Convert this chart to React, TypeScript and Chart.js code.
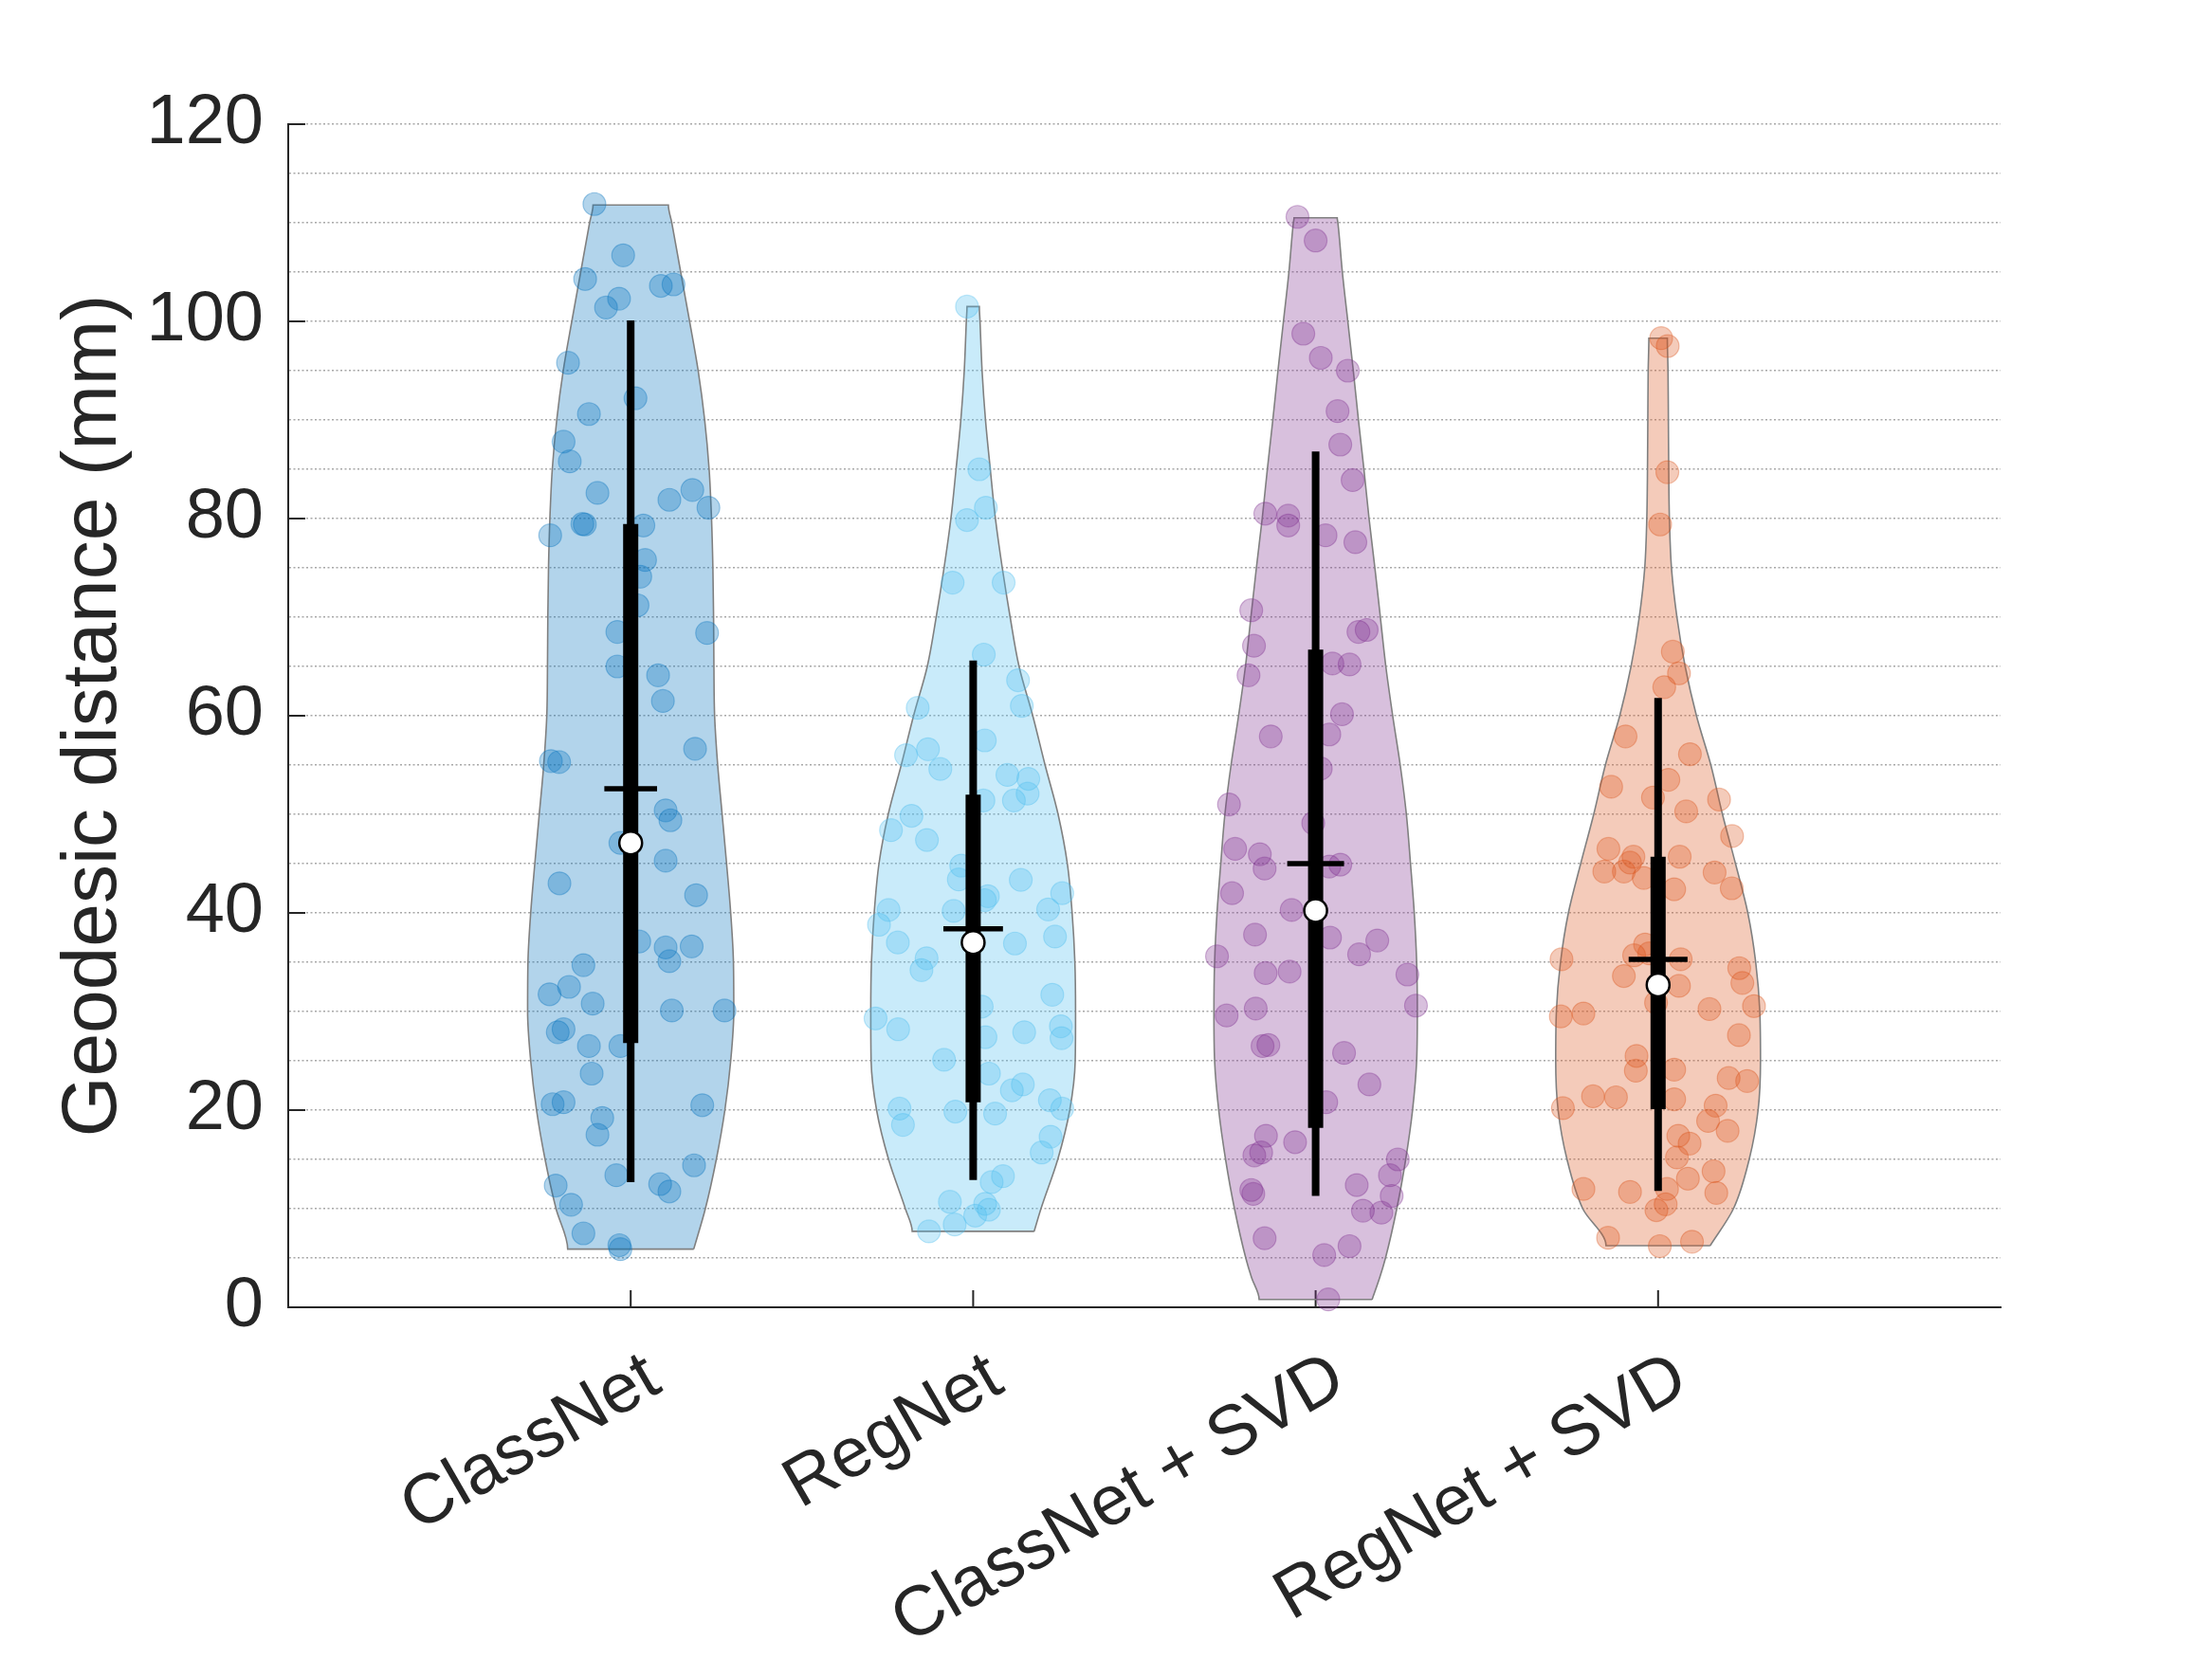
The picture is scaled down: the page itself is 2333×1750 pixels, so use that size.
import React, { useEffect, useRef } from 'react';
import { Chart, registerables } from 'chart.js';

Chart.register(...registerables);

// ---------- categories & ticks ----------
const categories = ['ClassNet', 'RegNet', 'ClassNet + SVD', 'RegNet + SVD'];
const yGridValues = [0, 5, 10, 15, 20, 25, 30, 35, 40, 45, 50, 55, 60, 65, 70, 75, 80, 85, 90, 95, 100, 105, 110, 115, 120];
const yLabelValues = [0, 20, 40, 60, 80, 100, 120];

// ---------- summary statistics ----------
const medians = [47.1, 37.0, 40.25, 32.7];
const means = [52.6, 38.4, 45.0, 35.3];
const q1Values = [26.8, 20.8, 18.2, 20.1];
const q3Values = [79.45, 52.0, 66.7, 45.7];
const whiskerLow = [12.7, 12.9, 11.3, 11.8];
const whiskerHigh = [100.1, 65.6, 86.8, 61.8];
const meanLineHalfWidths = [0.077, 0.087, 0.083, 0.086];

// ---------- violin outlines (y level, half width in category units) ----------
const classNetViolinY = [5.9, 10, 15, 20, 25, 30, 35, 40, 45, 50, 55, 60, 65, 70, 75, 80, 85, 90, 95, 100, 105, 110, 111.8];
const classNetViolinHW = [0.184, 0.218, 0.25, 0.275, 0.292, 0.301, 0.3, 0.292, 0.28, 0.267, 0.254, 0.245, 0.243, 0.242, 0.24, 0.236, 0.229, 0.216, 0.197, 0.172, 0.146, 0.12, 0.11];

const regNetViolinY = [7.7, 10, 15, 20, 25, 30, 35, 40, 45, 50, 55, 60, 65, 70, 75, 80, 85, 90, 95, 100, 101.5];
const regNetViolinHW = [0.178, 0.198, 0.247, 0.282, 0.298, 0.299, 0.297, 0.289, 0.275, 0.248, 0.21, 0.174, 0.134, 0.108, 0.085, 0.065, 0.05, 0.036, 0.026, 0.02, 0.018];

const classSvdViolinY = [0.8, 3, 5, 10, 15, 20, 25, 30, 35, 40, 45, 50, 55, 60, 65, 70, 75, 80, 85, 90, 95, 100, 105, 110, 110.5];
const classSvdViolinHW = [0.165, 0.187, 0.204, 0.237, 0.263, 0.283, 0.295, 0.297, 0.295, 0.288, 0.277, 0.265, 0.247, 0.225, 0.205, 0.189, 0.173, 0.156, 0.141, 0.125, 0.11, 0.094, 0.078, 0.065, 0.063];

const regSvdViolinY = [6.25, 10, 15, 20, 25, 30, 35, 40, 45, 50, 55, 60, 65, 70, 75, 80, 85, 90, 95, 98.3];
const regSvdViolinHW = [0.152, 0.22, 0.266, 0.292, 0.299, 0.297, 0.285, 0.262, 0.226, 0.188, 0.154, 0.112, 0.079, 0.055, 0.039, 0.033, 0.031, 0.03, 0.029, 0.027];

// ---------- raw observations (value, horizontal jitter in category units) ----------
const classNetPointY = [
  111.9, 106.7, 104.3, 102.3, 101.4, 103.6, 103.75, 95.8, 92.2, 90.6, 87.8, 85.8, 82.6, 81.9, 82.9, 81.1,
  79.45, 79.4, 78.3, 79.3, 75.8, 74.1, 71.2, 68.5, 68.4, 65.0, 64.1, 61.5,
  56.65, 55.4, 55.3, 50.4, 49.4, 47.1, 45.3, 43.0, 41.8, 37.1, 36.5, 35.1, 36.6, 34.7, 31.75, 32.5, 30.8,
  30.1, 30.1, 27.9, 28.2, 26.5, 26.5, 23.7, 20.6, 20.8, 19.2, 17.5, 20.5, 14.4, 13.4, 12.35, 12.5, 11.75,
  10.4, 7.5, 6.3, 5.9,
];
const classNetPointDx = [
  -0.106, -0.022, -0.133, -0.034, -0.072, 0.088, 0.125, -0.183, 0.014, -0.122, -0.196, -0.178, -0.097, 0.113, 0.18, 0.227,
  -0.141, -0.134, -0.235, 0.037, 0.042, 0.028, 0.02, -0.039, 0.223, -0.039, 0.08, 0.094,
  0.188, -0.233, -0.209, 0.102, 0.116, -0.03, 0.102, -0.208, 0.191, 0.025, 0.102, 0.113, 0.178, -0.138, -0.237, -0.18, -0.111,
  0.12, 0.274, -0.213, -0.196, -0.122, -0.03, -0.114, -0.228, -0.196, -0.083, -0.097, 0.209, 0.185, -0.042, -0.219, 0.086, 0.113,
  -0.174, -0.138, -0.033, -0.03,
];

const regNetPointY = [
  101.5, 85.0, 81.1, 79.85, 73.5, 73.5, 66.2, 63.6, 61.0, 60.8, 56.0, 56.6, 54.6, 57.5, 54.0, 53.6,
  52.1, 51.4, 51.4, 49.85, 48.4, 47.4, 44.8, 43.4, 43.35, 41.7, 41.3, 42.0, 40.35, 40.2, 40.3, 38.8,
  37.0, 36.9, 37.6, 35.4, 34.2, 31.7, 30.5, 29.3, 28.2, 27.4, 27.9, 28.5, 27.3, 25.1, 23.7, 22.0, 22.6,
  21.0, 20.15, 20.15, 18.5, 19.85, 19.65, 17.3, 15.7, 13.3, 12.7, 10.7, 10.5, 9.9, 9.3, 8.4, 7.7,
];
const regNetPointDx = [
  -0.018, 0.018, 0.037, -0.018, -0.06, 0.089, 0.031, 0.131, 0.142, -0.162, -0.196, -0.132, -0.096, 0.034, 0.1, 0.161,
  0.159, 0.119, 0.03, -0.18, -0.24, -0.135, -0.035, -0.042, 0.139, 0.043, 0.034, 0.26, 0.219, -0.057, -0.247, -0.275,
  -0.22, 0.122, 0.239, -0.136, -0.151, 0.231, 0.025, -0.285, -0.219, 0.036, 0.149, 0.256, 0.258, -0.085, 0.046, 0.113, 0.145,
  0.224, 0.26, -0.215, -0.205, -0.052, 0.064, 0.226, 0.2, 0.087, 0.054, -0.068, 0.035, 0.046, 0.006, -0.054, -0.129,
];

const classSvdPointY = [
  110.6, 108.2, 98.75, 96.3, 95.0, 90.9, 87.5, 83.9, 80.5, 80.3, 79.3, 78.3, 77.6, 70.7, 67.1, 68.5, 68.7,
  64.1, 65.3, 65.2, 60.15, 57.9, 58.1, 54.65, 51.0, 49.1, 46.5, 45.95, 44.5, 44.7, 44.9, 42.0, 40.3,
  37.8, 37.5, 35.8, 37.2, 35.6, 33.9, 34.05, 33.75, 29.6, 30.3, 30.6, 26.5, 26.6, 25.8, 22.6, 20.8,
  17.4, 16.75, 15.4, 15.7, 15.0, 13.4, 11.3, 12.4, 11.9, 11.5, 9.8, 9.6, 7.0, 6.2, 5.3, 0.8,
];
const classSvdPointDx = [
  -0.053, 0.0, -0.036, 0.015, 0.094, 0.064, 0.072, 0.108, -0.147, -0.08, -0.08, 0.029, 0.116, -0.188, -0.18, 0.125, 0.149,
  -0.196, 0.049, 0.099, 0.077, -0.131, 0.04, 0.015, -0.253, -0.007, -0.235, -0.163, -0.149, 0.04, 0.072, -0.244, -0.07,
  -0.177, 0.042, 0.127, 0.18, -0.288, -0.146, -0.076, 0.268, -0.26, -0.175, 0.293, -0.155, -0.138, 0.083, 0.157, 0.031,
  -0.145, -0.06, -0.179, -0.159, 0.24, 0.217, 0.222, 0.12, -0.188, -0.182, 0.138, 0.192, -0.149, 0.099, 0.025, 0.037,
];

const regSvdPointY = [
  98.3, 97.5, 84.7, 79.4, 66.5, 64.3, 62.9, 57.9, 56.1, 53.5, 52.8, 51.7, 51.5, 50.3, 47.8, 46.5, 45.7,
  45.1, 44.2, 44.2, 43.55, 45.7, 44.1, 42.5, 42.4, 36.8, 35.7, 35.9, 35.3, 35.3, 33.6, 32.6, 34.4, 32.9,
  30.55, 30.9, 30.25, 29.5, 29.8, 27.6, 25.5, 24.0, 24.1, 23.25, 22.95, 21.4, 21.3, 21.1, 20.2, 20.45,
  18.9, 17.9, 17.4, 16.6, 15.2, 13.05, 13.8, 11.6, 12.0, 11.7, 12.0, 10.45, 9.85, 7.05, 6.2, 6.65,
];
const regSvdPointDx = [
  0.009, 0.028, 0.027, 0.006, 0.043, 0.061, 0.018, -0.095, 0.093, 0.03, -0.137, -0.015, 0.178, 0.082, 0.216, -0.145, -0.072,
  -0.082, -0.157, -0.1, -0.042, 0.063, 0.165, 0.215, 0.047, -0.038, -0.07, -0.026, 0.066, -0.282, -0.1, 0.061, 0.237, 0.246,
  0.28, -0.006, 0.15, -0.284, -0.218, 0.236, -0.063, -0.065, 0.047, 0.206, 0.26, -0.19, -0.123, 0.047, -0.278, 0.168,
  0.146, 0.203, 0.059, 0.092, 0.055, 0.087, 0.162, 0.17, -0.218, -0.082, 0.026, 0.022, -0.005, -0.146, 0.005, 0.099,
];

// ---------- styles ----------
const seriesRgb = ['0,114,189', '77,190,238', '126,47,142', '217,83,25'];
const AXIS_COLOR = '#262626';
const GRID_COLOR = 'rgba(110,110,110,0.6)';
const FONT_FAMILY = "'Liberation Sans', Arial, Helvetica, sans-serif";

const groups = [
  { vy: classNetViolinY, vhw: classNetViolinHW, py: classNetPointY, pdx: classNetPointDx },
  { vy: regNetViolinY, vhw: regNetViolinHW, py: regNetPointY, pdx: regNetPointDx },
  { vy: classSvdViolinY, vhw: classSvdViolinHW, py: classSvdPointY, pdx: classSvdPointDx },
  { vy: regSvdViolinY, vhw: regSvdViolinHW, py: regSvdPointY, pdx: regSvdPointDx },
];

function violinOutline(pos: number, ys: number[], hws: number[]) {
  const right = ys.map((y, i) => ({ x: pos + hws[i], y }));
  const left = ys.map((y, i) => ({ x: pos - hws[i], y })).reverse();
  return [...right, ...left, right[0]];
}

function buildDatasets() {
  const ds: any[] = [];
  groups.forEach((g, gi) => {
    const pos = gi + 1;
    const c = seriesRgb[gi];
    ds.push({
      type: 'line',
      data: violinOutline(pos, g.vy, g.vhw),
      indexAxis: 'y',
      cubicInterpolationMode: 'monotone',
      fill: 'shape',
      backgroundColor: `rgba(${c},0.3)`,
      borderColor: 'rgb(128,128,128)',
      borderWidth: 1.6,
      pointRadius: 0,
      order: 10,
      clip: false,
    });
    ds.push({
      type: 'scatter',
      data: g.py.map((y, i) => ({ x: pos + g.pdx[i], y })),
      pointRadius: 12,
      backgroundColor: `rgba(${c},0.3)`,
      borderColor: `rgba(${c},0.35)`,
      borderWidth: 1.2,
      order: 8,
      clip: false,
    });
    ds.push({
      type: 'line',
      data: [{ x: pos, y: whiskerLow[gi] }, { x: pos, y: whiskerHigh[gi] }],
      borderColor: '#000',
      borderWidth: 8,
      borderCapStyle: 'butt',
      pointRadius: 0,
      fill: false,
      order: 4,
      clip: false,
    });
    ds.push({
      type: 'line',
      data: [{ x: pos, y: q1Values[gi] }, { x: pos, y: q3Values[gi] }],
      borderColor: '#000',
      borderWidth: 16,
      borderCapStyle: 'butt',
      pointRadius: 0,
      fill: false,
      order: 3,
      clip: false,
    });
    ds.push({
      type: 'line',
      data: [{ x: pos - meanLineHalfWidths[gi], y: means[gi] }, { x: pos + meanLineHalfWidths[gi], y: means[gi] }],
      borderColor: '#000',
      borderWidth: 5.5,
      borderCapStyle: 'butt',
      pointRadius: 0,
      fill: false,
      order: 2,
      clip: false,
    });
  });
  ds.push({
    type: 'scatter',
    data: medians.map((m, i) => ({ x: i + 1, y: m })),
    pointRadius: 12,
    backgroundColor: '#ffffff',
    borderColor: '#000000',
    borderWidth: 2.5,
    order: 0,
    clip: false,
  });
  return ds;
}

const inwardTicks = {
  id: 'inwardTicks',
  beforeDatasetsDraw(chart: any) {
    const { ctx, chartArea, scales } = chart;
    ctx.save();
    ctx.strokeStyle = AXIS_COLOR;
    ctx.lineWidth = 2;
    ctx.beginPath();
    for (const v of yLabelValues) {
      const py = scales.y.getPixelForValue(v);
      ctx.moveTo(chartArea.left, py);
      ctx.lineTo(chartArea.left + 18, py);
    }
    categories.forEach((_, i) => {
      const px = scales.x.getPixelForValue(i + 1);
      ctx.moveTo(px, chartArea.bottom);
      ctx.lineTo(px, chartArea.bottom - 18);
    });
    ctx.stroke();
    ctx.restore();
  },
};

export default function App() {
  const ref = useRef<HTMLCanvasElement>(null);
  useEffect(() => {
    const canvas = ref.current;
    if (!canvas) return;
    const chart = new Chart(canvas, {
      type: 'scatter',
      data: { datasets: buildDatasets() },
      plugins: [inwardTicks],
      options: {
        animation: false,
        responsive: false,
        maintainAspectRatio: false,
        devicePixelRatio: 1,
        events: [],
        layout: { padding: { left: 0, right: 223, top: 131, bottom: 0 } },
        plugins: { legend: { display: false }, tooltip: { enabled: false } },
        scales: {
          x: {
            type: 'linear',
            min: 0,
            max: 5,
            afterBuildTicks: (axis: any) => {
              axis.ticks = categories.map((_, i) => ({ value: i + 1 }));
            },
            afterFit: (axis: any) => {
              axis.height = 371;
            },
            grid: { display: false, drawTicks: false },
            border: { display: true, color: AXIS_COLOR, width: 2 },
            ticks: {
              autoSkip: false,
              minRotation: 30,
              maxRotation: 30,
              padding: 31,
              labelOffset: 25,
              color: AXIS_COLOR,
              font: { family: FONT_FAMILY, size: 74 },
              callback: (v: any) => categories[Math.round(Number(v)) - 1] ?? '',
            },
          },
          y: {
            type: 'linear',
            min: 0,
            max: 120,
            afterBuildTicks: (axis: any) => {
              axis.ticks = yGridValues.map((v) => ({ value: v }));
            },
            afterFit: (axis: any) => {
              axis.width = 304;
            },
            grid: {
              drawTicks: false,
              lineWidth: 1.5,
              color: (ctx: any) => (ctx.tick && ctx.tick.value === 0 ? 'rgba(0,0,0,0)' : GRID_COLOR),
            },
            border: { display: true, color: AXIS_COLOR, width: 2, dash: [2, 2.5] },
            ticks: {
              autoSkip: false,
              padding: 26,
              color: AXIS_COLOR,
              font: { family: FONT_FAMILY, size: 74 },
              callback: (v: any) => (yLabelValues.includes(Number(v)) ? String(v) : ''),
            },
            title: {
              display: true,
              text: 'Geodesic distance (mm)',
              color: AXIS_COLOR,
              font: { family: FONT_FAMILY, size: 82 },
              padding: { top: 50, bottom: 0 },
            },
          },
        },
      } as any,
    } as any);
    return () => chart.destroy();
  }, []);
  return (
    <div style={{ position: 'absolute', left: 0, top: 0, width: 2333, height: 1750, background: '#ffffff' }}>
      <canvas ref={ref} width={2333} height={1750} style={{ display: 'block', width: 2333, height: 1750 }} />
    </div>
  );
}
